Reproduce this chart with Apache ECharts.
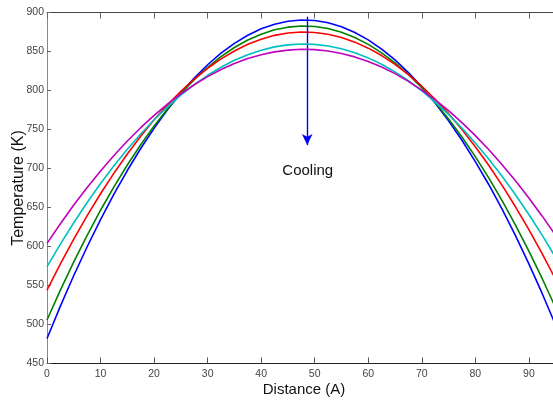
<!DOCTYPE html>
<html>
<head>
<meta charset="utf-8">
<script src="https://cdn.jsdelivr.net/npm/echarts@6/dist/echarts.min.js"></script>
<style>
html,body{margin:0;padding:0;background:#fff;}
#chart{width:553px;height:407px;}
</style>
</head>
<body>
<div id="chart"></div>
<script>
// Distance (A)
var distance = [0,2.5,5,7.5,10,12.5,15,17.5,20,22.5,25,27.5,30,32.5,35,37.5,40,42.5,45,47.5,50,52.5,55,57.5,60,62.5,65,67.5,70,72.5,75,77.5,80,82.5,85,87.5,90,92.5,95,97.5,100];
// Temperature (K) curves, hottest peak first (cooling sequence)
var blueT    = [482.1,523.6,562.8,599.7,634.5,667.1,697.4,725.6,751.5,775.2,796.7,815.9,833.0,847.8,860.5,870.9,879.1,885.0,888.8,890.4,889.7,886.8,881.7,874.4,864.9,853.1,839.2,823.0,804.6,784.0,761.2,736.2,708.9,679.5,647.8,613.9,577.8,539.5,499.0,456.2,411.3];
var greenT   = [505.8,544.0,580.2,614.4,646.5,676.5,704.5,730.5,754.4,776.3,796.2,813.9,829.7,843.4,855.1,864.7,872.2,877.8,881.2,882.7,882.0,879.4,874.7,867.9,859.1,848.3,835.4,820.5,803.5,784.5,763.4,740.3,715.2,688.0,658.7,627.4,594.1,558.7,521.3,481.8,440.3];
var redT     = [544.1,577.7,609.5,639.5,667.6,694.0,718.6,741.4,762.4,781.6,799.0,814.7,828.5,840.5,850.7,859.2,865.8,870.7,873.7,875.0,874.4,872.1,868.0,862.0,854.3,844.8,833.5,820.4,805.5,788.8,770.3,750.0,728.0,704.1,678.4,650.9,621.7,590.6,557.8,523.1,486.7];
var cyanT    = [574.1,603.1,630.5,656.4,680.7,703.5,724.7,744.3,762.5,779.0,794.1,807.5,819.5,829.8,838.7,845.9,851.7,855.9,858.5,859.6,859.1,857.1,853.5,848.4,841.8,833.6,823.8,812.5,799.6,785.2,769.3,751.8,732.7,712.1,690.0,666.3,641.0,614.2,585.9,556.0,524.6];
var magentaT = [604.0,629.2,653.1,675.7,696.8,716.7,735.2,752.3,768.1,782.6,795.7,807.4,817.8,826.9,834.5,840.9,845.9,849.5,851.8,852.8,852.4,850.6,847.5,843.1,837.2,830.1,821.6,811.7,800.5,788.0,774.1,758.8,742.2,724.3,704.9,684.3,662.3,638.9,614.2,588.2,560.8];
var seriesColors = ['#0000ff','#008000','#ff0000','#00bfbf','#bf00bf'];
// Cooling arrow (start, end) and label position
var arrowX = 48.6;
var arrowFrom = 894.6;
var arrowTo = 730;
var labelPos = [48.7, 696.8];
var labelText = 'Cooling';

var curves = [blueT, greenT, redT, cyanT, magentaT];
function pairs(ys){ return distance.map(function(x,i){ return [x, ys[i]]; }); }

var narrow = "'Liberation Sans Narrow','Liberation Sans',Arial,sans-serif";
var series = curves.map(function(c, i){
  return {
    type: 'line', data: pairs(c), smooth: false, showSymbol: false,
    lineStyle: { color: seriesColors[i], width: 1.6 }, itemStyle: { color: seriesColors[i] },
    clip: true, z: 2 + i
  };
});
series.push({
  type: 'line', data: [], z: 10,
  markLine: {
    silent: true, symbol: ['none','arrow'], symbolSize: [8, 11],
    label: { show: false },
    lineStyle: { color: '#0000ff', width: 1.4, type: 'solid' },
    data: [[{ coord: [arrowX, arrowFrom] }, { coord: [arrowX, arrowTo] }]]
  },
  markPoint: {
    silent: true, symbol: 'circle', symbolSize: 0,
    label: { show: true, formatter: labelText, color: '#111', fontSize: 15,
             fontFamily: "'Liberation Sans',Arial,sans-serif", position: 'inside' },
    data: [{ coord: labelPos }]
  }
});

var chart = echarts.init(document.getElementById('chart'), null, { renderer: 'canvas' });
chart.setOption({
  animation: false,
  backgroundColor: '#ffffff',
  grid: { left: 47, right: -8, top: 12.5, bottom: 43.5, show: false, containLabel: false, outerBoundsMode: 'none' },
  xAxis: [{
    type: 'value', min: 0, max: 96, interval: 10, position: 'bottom',
    name: 'Distance (A)', nameLocation: 'middle', nameGap: 19, nameMoveOverlap: false,
    nameTextStyle: { color: '#111', fontSize: 15, fontFamily: "'Liberation Sans',Arial,sans-serif" },
    axisLine: { show: true, onZero: false, lineStyle: { color: '#222', width: 1 } },
    axisTick: { show: true, inside: true, length: 6, lineStyle: { color: '#555' } },
    axisLabel: { color: '#444', fontSize: 10.5, fontFamily: narrow, margin: 5, showMaxLabel: false,
      formatter: function(v){ return v % 10 === 0 ? String(v) : ''; } },
    splitLine: { show: false }
  }, {
    type: 'value', min: 0, max: 96, interval: 10, position: 'top',
    axisLine: { show: true, onZero: false, lineStyle: { color: '#444', width: 1 } },
    axisTick: { show: true, inside: true, length: 6, lineStyle: { color: '#666' } },
    axisLabel: { show: false }, splitLine: { show: false }
  }],
  yAxis: [{
    type: 'value', min: 450, max: 900, interval: 50,
    name: 'Temperature (K)', nameLocation: 'middle', nameGap: 20, nameRotate: 90, nameMoveOverlap: false,
    nameTextStyle: { color: '#111', fontSize: 16, fontFamily: "'Liberation Sans',Arial,sans-serif" },
    axisLine: { show: true, onZero: false, lineStyle: { color: '#888', width: 1 } },
    axisTick: { show: true, inside: true, length: 4, lineStyle: { color: '#666' } },
    axisLabel: { color: '#444', fontSize: 10.5, fontFamily: narrow, margin: 3 },
    splitLine: { show: false }
  }],
  series: series
});
</script>
</body>
</html>
